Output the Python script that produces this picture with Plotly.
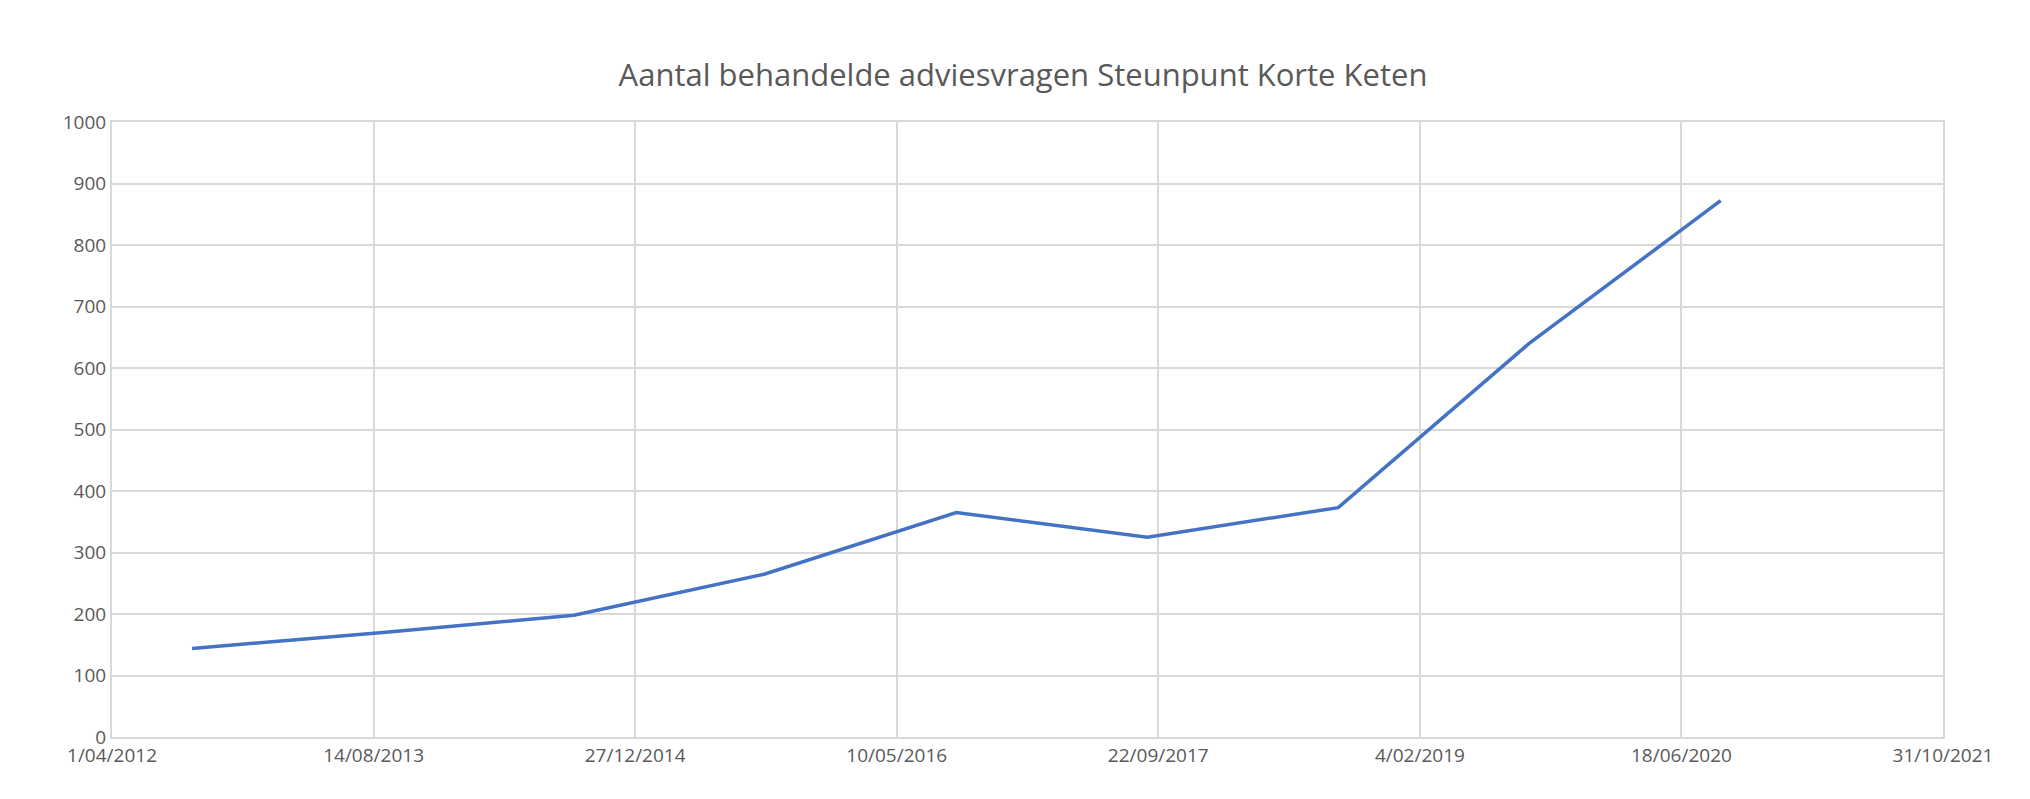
import plotly.graph_objects as go

dates = ["2012-09-01","2013-09-01","2014-09-01","2015-09-01","2016-09-01","2017-09-01","2018-09-01","2019-09-01","2020-09-01"]
values = [144, 170, 198, 265, 365, 325, 373, 640, 872]
tick_dates = ["2012-04-01","2013-08-14","2014-12-27","2016-05-10","2017-09-22","2019-02-04","2020-06-18","2021-10-31"]
tick_labels = ["1/04/2012","14/08/2013","27/12/2014","10/05/2016","22/09/2017","4/02/2019","18/06/2020","31/10/2021"]

fig = go.Figure(go.Scatter(x=dates, y=values, mode="lines",
                           line=dict(color="#4472C4", width=3.5)))
fig.update_layout(
    width=2030, height=799, plot_bgcolor="white", paper_bgcolor="white",
    margin=dict(l=104, r=95, t=114, b=70),
    title=dict(text="Aantal behandelde adviesvragen Steunpunt Korte Keten", x=0.5, xanchor="center",
               y=0.93, font=dict(family="Open Sans", size=31, color="#595959")),
    font=dict(family="Open Sans", size=19, color="#595959"),
    showlegend=False,
)
fig.update_xaxes(type="date", range=["2012-04-01","2021-10-31"], tickvals=tick_dates, ticktext=tick_labels,
                 showgrid=True, gridcolor="#D9D9D9", gridwidth=2, showline=True, linecolor="#D9D9D9",
                 linewidth=2, mirror=True, ticks="", tickangle=0)
fig.update_yaxes(range=[0,1000], dtick=100, showgrid=True, gridcolor="#D9D9D9", gridwidth=2,
                 showline=True, linecolor="#D9D9D9", linewidth=2, mirror=True, zeroline=False, ticks="")
fig.write_html("out.html")
